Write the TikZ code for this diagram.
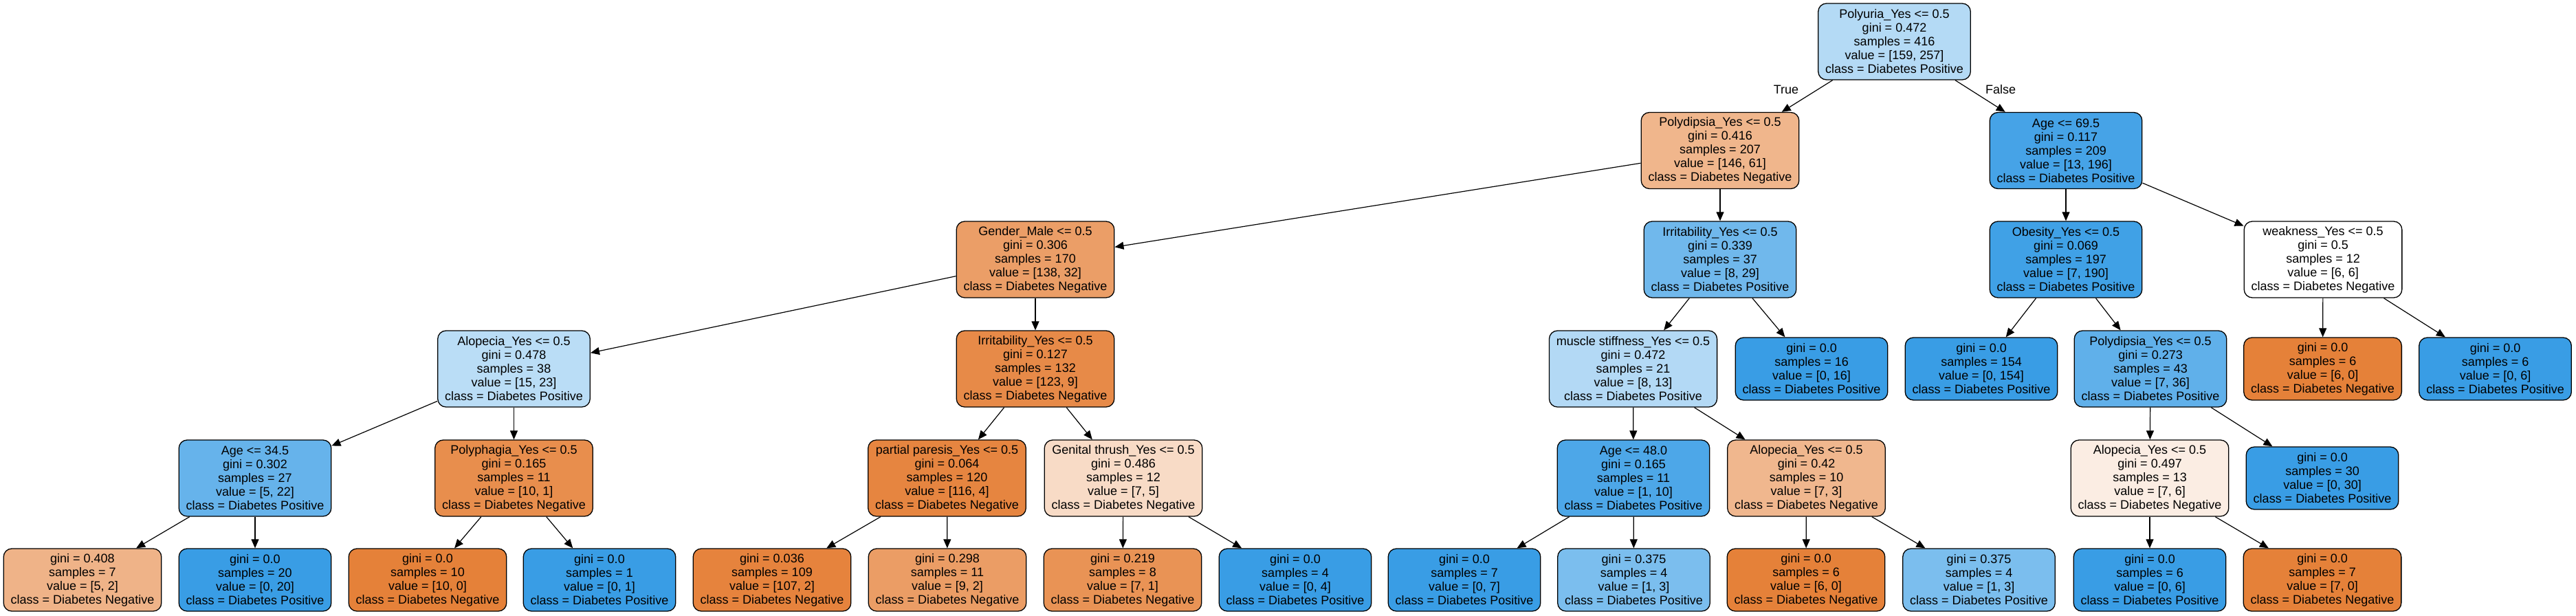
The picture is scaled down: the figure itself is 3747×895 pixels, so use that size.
\documentclass[tikz,border=0pt]{standalone}
\usepackage{fontspec}
\setmainfont{Liberation Sans}
\usetikzlibrary{arrows.meta}
\definecolor{cA}{RGB}{180,218,245}
\definecolor{cB}{RGB}{240,182,140}
\definecolor{cC}{RGB}{70,163,231}
\definecolor{cD}{RGB}{235,158,103}
\definecolor{cE}{RGB}{112,184,236}
\definecolor{cF}{RGB}{64,161,230}
\definecolor{cG}{RGB}{186,221,246}
\definecolor{cH}{RGB}{231,138,72}
\definecolor{cI}{RGB}{179,217,245}
\definecolor{cJ}{RGB}{96,176,234}
\definecolor{cK}{RGB}{102,179,235}
\definecolor{cL}{RGB}{232,142,77}
\definecolor{cM}{RGB}{230,133,64}
\definecolor{cN}{RGB}{248,219,198}
\definecolor{cO}{RGB}{77,167,232}
\definecolor{cP}{RGB}{240,183,142}
\definecolor{cQ}{RGB}{251,237,227}
\definecolor{cR}{RGB}{239,179,136}
\definecolor{cS}{RGB}{230,131,61}
\definecolor{cT}{RGB}{235,157,101}
\definecolor{cU}{RGB}{233,147,85}
\definecolor{cV}{RGB}{123,190,238}
\definecolor{fullO}{RGB}{229,129,57}
\definecolor{fullB}{RGB}{57,157,229}
\begin{document}
\begin{tikzpicture}[x=1pt,y=-1pt,
  tn/.style={draw=black, line width=1.3pt, rounded corners=12pt, align=center,
    inner xsep=10.5pt, inner ysep=0pt, font=\fontsize{18pt}{20pt}\selectfont},
  inode/.style={tn, minimum height=111pt},
  leaf/.style={tn, minimum height=91pt},
  edge/.style={-{Triangle[length=13pt,width=11pt]}, line width=1.2pt},
  lbl/.style={font=\fontsize{18pt}{20pt}\selectfont, inner sep=0pt}]
\useasboundingbox (0,0) rectangle (3747,895);
% level 0
\node[inode,fill=cA] (n0) at (2755.5,60.5) {Polyuria\_Yes <= 0.5\\gini = 0.472\\samples = 416\\value = [159, 257]\\class = Diabetes Positive};
% level 1
\node[inode,fill=cB] (n1) at (2502,219) {Polydipsia\_Yes <= 0.5\\gini = 0.416\\samples = 207\\value = [146, 61]\\class = Diabetes Negative};
\node[inode,fill=cC] (n2) at (3005,219) {Age <= 69.5\\gini = 0.117\\samples = 209\\value = [13, 196]\\class = Diabetes Positive};
% level 2
\node[inode,fill=cD] (n3) at (1506,377.5) {Gender\_Male <= 0.5\\gini = 0.306\\samples = 170\\value = [138, 32]\\class = Diabetes Negative};
\node[inode,fill=cE] (n4) at (2502,377.5) {Irritability\_Yes <= 0.5\\gini = 0.339\\samples = 37\\value = [8, 29]\\class = Diabetes Positive};
\node[inode,fill=cF] (n5) at (3005,377.5) {Obesity\_Yes <= 0.5\\gini = 0.069\\samples = 197\\value = [7, 190]\\class = Diabetes Positive};
\node[inode,fill=white] (n6) at (3379,377.5) {weakness\_Yes <= 0.5\\gini = 0.5\\samples = 12\\value = [6, 6]\\class = Diabetes Negative};
% level 3
\node[inode,fill=cG] (n7) at (747.5,536.5) {Alopecia\_Yes <= 0.5\\gini = 0.478\\samples = 38\\value = [15, 23]\\class = Diabetes Positive};
\node[inode,fill=cH] (n8) at (1506,536.5) {Irritability\_Yes <= 0.5\\gini = 0.127\\samples = 132\\value = [123, 9]\\class = Diabetes Negative};
\node[inode,fill=cI] (n9) at (2375.5,536.5) {muscle stiffness\_Yes <= 0.5\\gini = 0.472\\samples = 21\\value = [8, 13]\\class = Diabetes Positive};
\node[leaf,fill=fullB] (n10) at (2635,536.5) {gini = 0.0\\samples = 16\\value = [0, 16]\\class = Diabetes Positive};
\node[leaf,fill=fullB] (n11) at (2882,536.5) {gini = 0.0\\samples = 154\\value = [0, 154]\\class = Diabetes Positive};
\node[inode,fill=cJ] (n12) at (3128,536.5) {Polydipsia\_Yes <= 0.5\\gini = 0.273\\samples = 43\\value = [7, 36]\\class = Diabetes Positive};
\node[leaf,fill=fullO] (n13) at (3378.5,536.5) {gini = 0.0\\samples = 6\\value = [6, 0]\\class = Diabetes Negative};
\node[leaf,fill=fullB] (n14) at (3629.5,536.5) {gini = 0.0\\samples = 6\\value = [0, 6]\\class = Diabetes Positive};
% level 4
\node[inode,fill=cK] (n15) at (371,695.5) {Age <= 34.5\\gini = 0.302\\samples = 27\\value = [5, 22]\\class = Diabetes Positive};
\node[inode,fill=cL] (n16) at (747.5,695.5) {Polyphagia\_Yes <= 0.5\\gini = 0.165\\samples = 11\\value = [10, 1]\\class = Diabetes Negative};
\node[inode,fill=cM] (n17) at (1377.5,695.5) {partial paresis\_Yes <= 0.5\\gini = 0.064\\samples = 120\\value = [116, 4]\\class = Diabetes Negative};
\node[inode,fill=cN] (n18) at (1634,695.5) {Genital thrush\_Yes <= 0.5\\gini = 0.486\\samples = 12\\value = [7, 5]\\class = Diabetes Negative};
\node[inode,fill=cO] (n19) at (2376,695.5) {Age <= 48.0\\gini = 0.165\\samples = 11\\value = [1, 10]\\class = Diabetes Positive};
\node[inode,fill=cP] (n20) at (2627.5,695.5) {Alopecia\_Yes <= 0.5\\gini = 0.42\\samples = 10\\value = [7, 3]\\class = Diabetes Negative};
\node[inode,fill=cQ] (n21) at (3127,695.5) {Alopecia\_Yes <= 0.5\\gini = 0.497\\samples = 13\\value = [7, 6]\\class = Diabetes Negative};
\node[leaf,fill=fullB] (n22) at (3378,695.5) {gini = 0.0\\samples = 30\\value = [0, 30]\\class = Diabetes Positive};
% level 5
\node[leaf,fill=cR] (n23) at (120,843.5) {gini = 0.408\\samples = 7\\value = [5, 2]\\class = Diabetes Negative};
\node[leaf,fill=fullB] (n24) at (371,843.5) {gini = 0.0\\samples = 20\\value = [0, 20]\\class = Diabetes Positive};
\node[leaf,fill=fullO] (n25) at (622,843.5) {gini = 0.0\\samples = 10\\value = [10, 0]\\class = Diabetes Negative};
\node[leaf,fill=fullB] (n26) at (872,843.5) {gini = 0.0\\samples = 1\\value = [0, 1]\\class = Diabetes Positive};
\node[leaf,fill=cS] (n27) at (1123,843.5) {gini = 0.036\\samples = 109\\value = [107, 2]\\class = Diabetes Negative};
\node[leaf,fill=cT] (n28) at (1378,843.5) {gini = 0.298\\samples = 11\\value = [9, 2]\\class = Diabetes Negative};
\node[leaf,fill=cU] (n29) at (1633,843.5) {gini = 0.219\\samples = 8\\value = [7, 1]\\class = Diabetes Negative};
\node[leaf,fill=fullB] (n30) at (1884,843.5) {gini = 0.0\\samples = 4\\value = [0, 4]\\class = Diabetes Positive};
\node[leaf,fill=fullB] (n31) at (2130,843.5) {gini = 0.0\\samples = 7\\value = [0, 7]\\class = Diabetes Positive};
\node[leaf,fill=cV] (n32) at (2376.5,843.5) {gini = 0.375\\samples = 4\\value = [1, 3]\\class = Diabetes Positive};
\node[leaf,fill=fullO] (n33) at (2627,843.5) {gini = 0.0\\samples = 6\\value = [6, 0]\\class = Diabetes Negative};
\node[leaf,fill=cV] (n34) at (2878.5,843.5) {gini = 0.375\\samples = 4\\value = [1, 3]\\class = Diabetes Positive};
\node[leaf,fill=fullB] (n35) at (3127,843.5) {gini = 0.0\\samples = 6\\value = [0, 6]\\class = Diabetes Positive};
\node[leaf,fill=fullO] (n36) at (3378,843.5) {gini = 0.0\\samples = 7\\value = [7, 0]\\class = Diabetes Negative};
% edges
\foreach \a/\b in {n0/n1,n0/n2,n1/n3,n1/n4,n2/n5,n2/n6,n3/n7,n3/n8,n4/n9,n4/n10,
  n5/n11,n5/n12,n6/n13,n6/n14,n7/n15,n7/n16,n8/n17,n8/n18,n9/n19,n9/n20,
  n12/n21,n12/n22,n15/n23,n15/n24,n16/n25,n16/n26,n17/n27,n17/n28,
  n18/n29,n18/n30,n19/n31,n19/n32,n20/n33,n20/n34,n21/n35,n21/n36}
  \draw[edge] (\a) -- (\b);
% labels
\node[lbl] (tl) at (2598,130) {True};
\node[lbl] (fl) at (2910,130) {False};
\end{tikzpicture}
\end{document}
